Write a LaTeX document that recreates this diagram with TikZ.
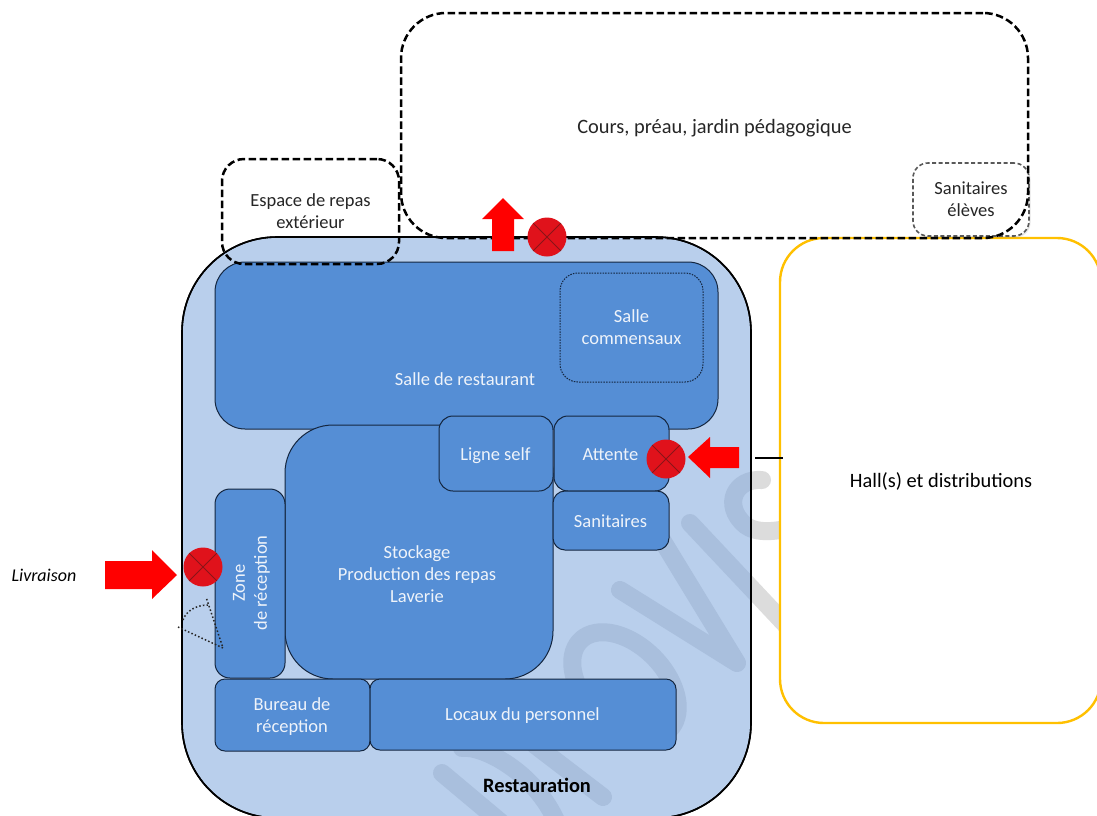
\documentclass[tikz,border=0pt]{standalone}
\usepackage{fontspec}
\setmainfont{Carlito}
\usetikzlibrary{shadows}
\definecolor{zonebg}{HTML}{B9CFEC}
\definecolor{roomblue}{HTML}{558ED5}
\definecolor{roomline}{HTML}{14263F}
\definecolor{redmark}{HTML}{E0121B}
\definecolor{xmark}{HTML}{8A1418}
\definecolor{wmwhite}{HTML}{DCDCDC}
\definecolor{wmblue}{HTML}{A9BFDD}
\definecolor{halline}{HTML}{FFC000}
\definecolor{darktext}{HTML}{262626}
\definecolor{softwhite}{HTML}{EEF3FA}
\newcommand{\rbox}[7]{\node[#6,minimum width={(#4-#2)*1pt},minimum height={(#5-#3)*1pt}] (#1) at ({(#2+#4)/2},{(#3+#5)/2}) {#7};}
\newcommand{\wmstrokes}[1]{%
  \begin{scope}[draw=#1,line width=18pt,line cap=round,line join=round]
    \draw (620,590) -- (737,663) -- (662,540);
    \draw (690,523) -- (800,640);
    \draw (762,480) .. controls (735,478) and (722,505) .. (745,525) .. controls (757,534) and (775,532) .. (800,526);
    \draw plot[domain=0:360,samples=72,smooth] ({625+.707*63*cos(\x)+.707*40*sin(\x)},{685+.707*63*cos(\x)-.707*40*sin(\x)});
    \draw (442,773) -- (510,830);
    \draw (462,748) .. controls (480,745) and (535,770) .. (558,825);
    \draw (535,745) -- (603,797);
  \end{scope}}
\tikzset{
  zonebox/.style={draw=black,line width=1.6pt,fill=zonebg,rounded corners=95pt,inner sep=0pt},
  bigtext/.style={font=\fontsize{20.4}{25}\selectfont},
  roomtext/.style={font=\fontsize{18.5}{22}\selectfont},
  room/.style={draw=roomline,line width=1pt,fill=roomblue,inner sep=0pt,align=center,text=softwhite,roomtext},
  lbl/.style={inner sep=0pt,align=center,roomtext},
  lite/.style={lbl,text=softwhite},
  outdash/.style={draw=black,line width=2.5pt,dash pattern=on 7.5pt off 3.5pt,inner sep=0pt,align=center,text=darktext,roomtext},
  stop/.style={circle,fill=redmark,minimum size=39pt,inner sep=0pt},
  flow/.style={fill=red,draw=none},
  xline/.style={draw=xmark,line width=.9pt},
  doorline/.style={draw=black!85,line width=1.5pt,dash pattern=on 1.5pt off 2.2pt}
}
\begin{document}
\begin{tikzpicture}[x=1pt,y=-1pt]
\useasboundingbox (0,0) rectangle (1097,815);
\clip (0,0) rectangle (1097,815);
\fill[white] (0,0) rectangle (1097,815);
\wmstrokes{wmwhite}
\rbox{hall}{780}{238}{1101}{723}{draw=halline,line width=2.4pt,fill=white,rounded corners=44pt,inner sep=0pt}{}
\node[lbl,text=black,bigtext] (halltext) at (941,481) {Hall(s) et distributions};
\rbox{resto}{182}{237}{751}{818}{zonebox}{}
\begin{scope}
  \clip[rounded corners=95pt] (182,237) rectangle (751,818);
  \wmstrokes{wmblue}
\end{scope}
\draw[line width=1.6pt,rounded corners=95pt] (182,237) rectangle (751,818);
\rbox{salle}{215}{262}{718}{429}{room,rounded corners=30pt}{}
\node[lite] (salletext) at (465,379) {Salle de restaurant};
\rbox{comm}{560}{273}{703}{382}{room,rounded corners=18pt,dash pattern=on 1.5pt off 1.2pt}{Salle\\commensaux}
\rbox{stock}{285}{425}{553}{679}{room,rounded corners=48pt}{}
\node[lite] (stocktext) at (417,574) {Stockage\\Production des repas\\Laverie};
\rbox{self}{439}{416}{553}{491}{room,rounded corners=14pt}{}
\node[lite] (selftext) at (495.5,455.5) {Ligne self};
\rbox{attente}{554}{416}{669}{491}{room,rounded corners=14pt}{}
\node[lite] (attentetext) at (610.5,454.5) {Attente};
\rbox{sani}{553}{491}{669}{550}{room,rounded corners=12pt}{}
\node[lite] (sanitext) at (610.5,521.5) {Sanitaires};
\rbox{zone}{215}{489}{285}{678}{room,rounded corners=15pt}{}
\node[lite,rotate=90] (zonetext) at (251.5,583) {Zone\\de réception};
\rbox{bureau}{215}{679}{370}{751}{room,rounded corners=10pt}{}
\node[lite] (bureautext) at (292,717) {Bureau de\\réception};
\rbox{locaux}{370}{679}{676}{750}{room,rounded corners=10pt}{}
\node[lite] (locauxtext) at (522.5,715.5) {Locaux du personnel};
\node[lbl,text=black,font=\fontsize{20.4}{25}\selectfont\bfseries] (restotext) at (537,785) {Restauration};
\rbox{sanel}{913}{163}{1029}{236}{draw=black!65,line width=1.6pt,dash pattern=on 4pt off 2.5pt,fill=white,rounded corners=15pt,inner sep=0pt,align=center,text=darktext,roomtext,drop shadow={opacity=.2,shadow xshift=1.5pt,shadow yshift=-1.5pt}}{Sanitaires\\élèves}
\rbox{cours}{401}{13}{1028}{238}{outdash,rounded corners=45pt}{}
\node[lbl,text=darktext,bigtext] (courstext) at (714.5,128.5) {Cours, préau, jardin pédagogique};
\rbox{espace}{222}{159}{399}{264}{outdash,rounded corners=22pt}{Espace de repas\\extérieur}
\node[lbl,text=black,font=\fontsize{18}{20}\selectfont\itshape] (livraison) at (44,575) {Livraison};
% flow arrows
\fill[flow] (105,561) -- (152,561) -- (152,550) -- (177,575) -- (152,599) -- (152,589) -- (105,589) -- cycle;
\fill[flow] (739,447) -- (710,447) -- (710,437) -- (688,457) -- (710,478) -- (710,468) -- (739,468) -- cycle;
\fill[flow] (492,251) -- (492,219) -- (482,219) -- (503,198) -- (524,219) -- (514,219) -- (514,251) -- cycle;
% stop marks
\foreach \nm/\cx/\cy in {stopa/203/567,stopb/666/459,stopc/547/237}{
  \node[stop] (\nm) at (\cx,\cy) {};
  \draw[xline] (\nm.north west) -- (\nm.south east);
  \draw[xline] (\nm.north east) -- (\nm.south west);
}
% door swing
\coordinate (doorc) at (223,648);
\coordinate (doora) at (178,627);
\coordinate (doorb) at (206,597);
\draw[doorline] (doora) -- (doorc) -- (doorb);
\draw[doorline] (183,620) .. controls (186,611) and (196,605) .. (208,605);
% link
\coordinate (linka) at (755,458);
\coordinate (linkb) at (783,458);
\draw[line width=2.2pt] (linka) -- (linkb);
\end{tikzpicture}
\end{document}
